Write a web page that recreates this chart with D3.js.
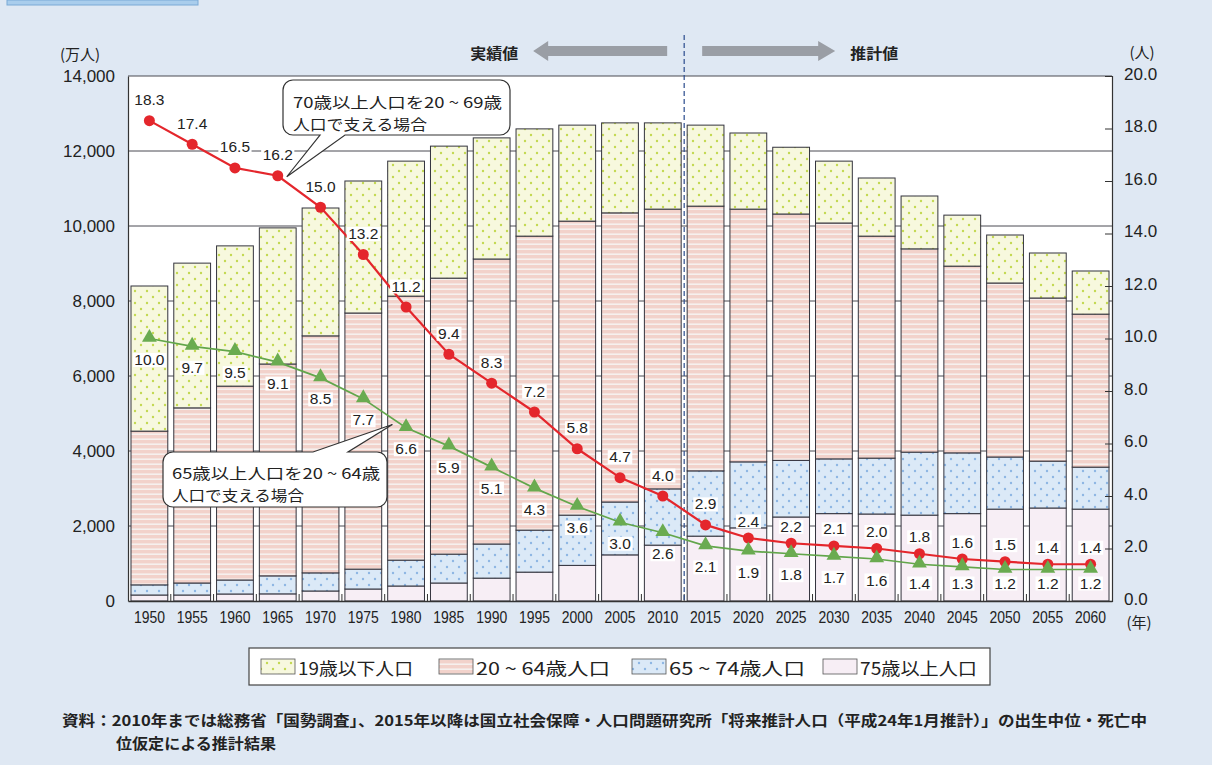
<!DOCTYPE html>
<html>
<head>
<meta charset="utf-8">
<script src="https://cdn.jsdelivr.net/npm/d3@7"></script>
<style>
  html, body { margin: 0; padding: 0; background: #dfe8f3; }
  svg { display: block; }
  text { font-family: "Liberation Sans", Arial, "Noto Sans CJK JP", sans-serif; fill: #222; }
  .jp { font-family: "Noto Sans CJK JP", "Noto Sans", sans-serif; }
</style>
</head>
<body>
<svg id="chart" width="1212" height="765"></svg>
<script>
// ---- data (population in 10,000 persons; ratios in persons) ----
const years = ["1950","1955","1960","1965","1970","1975","1980","1985","1990","1995","2000","2005",
               "2010","2015","2020","2025","2030","2035","2040","2045","2050","2055","2060"];
const under19   = [3870,3860,3740,3630,3410,3520,3600,3520,3230,2860,2560,2400,2300,2160,2030,1780,1650,1550,1410,1360,1280,1200,1150];
const age20to64 = [4100,4670,5170,5650,6320,6830,7040,7360,7600,7840,7840,7710,7460,7060,6740,6570,6290,5920,5420,4980,4640,4350,4080];
const age65to74 = [270,320,373,480,483,530,690,770,910,1120,1340,1410,1500,1740,1760,1510,1460,1490,1680,1620,1390,1250,1120];
const age75plus = [160,160,187,190,267,320,400,480,610,770,950,1230,1490,1730,1950,2240,2330,2320,2290,2330,2450,2480,2450];
// 70+ supported by 20-69 (red), 65+ supported by 20-64 (green)
const ratio70 = [18.3,17.4,16.5,16.2,15.0,13.2,11.2,9.4,8.3,7.2,5.8,4.7,4.0,2.9,2.4,2.2,2.1,2.0,1.8,1.6,1.5,1.4,1.4];
const ratio65 = [10.0,9.7,9.5,9.1,8.5,7.7,6.6,5.9,5.1,4.3,3.6,3.0,2.6,2.1,1.9,1.8,1.7,1.6,1.4,1.3,1.2,1.2,1.2];
const leftTicks  = [0,2000,4000,6000,8000,10000,12000,14000];
const rightTicks = [0,2,4,6,8,10,12,14,16,18,20];
const seriesKeys   = ["age75plus","age65to74","age20to64","under19"];
const legendKeys   = ["under19","age20to64","age65to74","age75plus"];
const legendLabels = ["19歳以下人口","20 ~ 64歳人口","65 ~ 74歳人口","75歳以上人口"];
const actualLabel = "実績値";
const projLabel = "推計値";
const calloutRed   = ["70歳以上人口を20 ~ 69歳","人口で支える場合"];
const calloutGreen = ["65歳以上人口を20 ~ 64歳","人口で支える場合"];
const sourceLines = ["資料：2010年までは総務省「国勢調査」、2015年以降は国立社会保障・人口問題研究所「将来推計人口（平成24年1月推計）」の出生中位・死亡中",
                     "位仮定による推計結果"];

// ---- layout ----
const L = 128, R = 1112, T = 76, B = 601;
const svg = d3.select("#chart");

const rows = years.map((yr, i) => ({
  year: yr, under19: under19[i], age20to64: age20to64[i], age65to74: age65to74[i], age75plus: age75plus[i]
}));

const x  = d3.scaleBand().domain(years).range([L, R]).paddingInner(0.14).paddingOuter(0.07);
const y  = d3.scaleLinear().domain([0, 14000]).range([B, T]);
const y2 = d3.scaleLinear().domain([0, 20]).range([B, T]);
const cx = d => x(d) + x.bandwidth() / 2;

// ---- fill patterns ----
const defs = svg.append("defs");
function dotPattern(id, bg, dot) {
  const p = defs.append("pattern").attr("id", id).attr("patternUnits", "userSpaceOnUse")
    .attr("width", 12).attr("height", 12);
  p.append("rect").attr("width", 12).attr("height", 12).attr("fill", bg);
  p.append("circle").attr("cx", 3).attr("cy", 3).attr("r", 1.2).attr("fill", dot);
  p.append("circle").attr("cx", 9).attr("cy", 9).attr("r", 1.2).attr("fill", dot);
}
dotPattern("pUnder19", "#f7f8de", "#c3d950");
dotPattern("p65", "#dbe9f7", "#8db6e4");
const ps = defs.append("pattern").attr("id", "p2064").attr("patternUnits", "userSpaceOnUse")
  .attr("width", 10).attr("height", 5);
ps.append("rect").attr("width", 10).attr("height", 5).attr("fill", "#f6f0ee");
ps.append("rect").attr("width", 10).attr("height", 3.4).attr("fill", "#f2d2cb");
const fills = {under19: "url(#pUnder19)", age20to64: "url(#p2064)", age65to74: "url(#p65)", age75plus: "#f7eef5"};

// header tab
svg.append("rect").attr("x", 7).attr("y", 0).attr("width", 191).attr("height", 5)
  .attr("fill", "#a9cdec").attr("stroke", "#7aa9d6");

// plot background
svg.append("rect").attr("x", L).attr("y", T).attr("width", R - L).attr("height", B - T).attr("fill", "#fff");

// gridlines
svg.append("g").selectAll("line").data(leftTicks.filter(d => d > 0 && d < 14000)).join("line")
  .attr("x1", L).attr("x2", R).attr("y1", d => y(d)).attr("y2", d => y(d))
  .attr("stroke", "#4a4a52").attr("stroke-width", 1);

// stacked bars
const stacked = d3.stack().keys(seriesKeys)(rows);
svg.append("g").selectAll("g").data(stacked).join("g")
  .attr("fill", s => fills[s.key])
  .selectAll("rect").data(s => s).join("rect")
  .attr("x", d => x(d.data.year))
  .attr("width", x.bandwidth())
  .attr("y", d => y(d[1]))
  .attr("height", d => y(d[0]) - y(d[1]))
  .attr("stroke", "#33333d").attr("stroke-width", 1);

// band-boundary ticks on the baseline
svg.append("g").selectAll("line").data(years.slice(1)).join("line")
  .attr("x1", d => x(d) - x.step() * x.paddingInner() / 2)
  .attr("x2", d => x(d) - x.step() * x.paddingInner() / 2)
  .attr("y1", B).attr("y2", B - 7).attr("stroke", "#333");

// frame
svg.append("line").attr("x1", L).attr("x2", R).attr("y1", T).attr("y2", T).attr("stroke", "#4a4a52").attr("stroke-width", 1.2);

// left axis
const gl = svg.append("g").attr("transform", `translate(${L},0)`)
  .call(d3.axisLeft(y).tickValues(leftTicks).tickSize(0).tickPadding(13).tickFormat(d3.format(",")));
gl.select(".domain").attr("stroke", "#333").attr("stroke-width", 1.2);
gl.selectAll("text").attr("font-size", 17).attr("fill", "#222")
  .style("font-family", '"Liberation Sans", Arial, sans-serif');

// right axis
const gr = svg.append("g").attr("transform", `translate(${R},0)`)
  .call(d3.axisRight(y2).tickValues(rightTicks).tickSize(-7).tickPadding(12).tickFormat(d3.format(".1f")));
gr.select(".domain").attr("stroke", "#333").attr("stroke-width", 1.2);
gr.selectAll("line").attr("stroke", "#333");
gr.selectAll("text").attr("font-size", 17).attr("fill", "#222").attr("dy", "0.2em")
  .style("font-family", '"Liberation Sans", Arial, sans-serif');

// bottom axis
const gb = svg.append("g").attr("transform", `translate(0,${B})`)
  .call(d3.axisBottom(x).tickSize(0).tickPadding(10));
gb.select(".domain").attr("stroke", "#333").attr("stroke-width", 1.4);
gb.selectAll("text").attr("font-size", 16.5).attr("fill", "#222")
  .attr("textLength", 31).attr("lengthAdjust", "spacingAndGlyphs")
  .style("font-family", '"Liberation Sans", Arial, sans-serif');

// unit labels
svg.append("text").attr("class", "jp").attr("x", 80).attr("y", 53).attr("text-anchor", "middle")
  .attr("dominant-baseline", "central").attr("font-size", 15).text("(万人)");
svg.append("text").attr("class", "jp").attr("x", 1142).attr("y", 51).attr("text-anchor", "middle")
  .attr("dominant-baseline", "central").attr("font-size", 15).text("(人)");
svg.append("text").attr("class", "jp").attr("x", 1139).attr("y", 621).attr("text-anchor", "middle")
  .attr("dominant-baseline", "central").attr("font-size", 15).text("(年)");

// actual / projected divider
const divX = x("2015") - x.step() * x.paddingInner() / 2;
svg.append("line").attr("x1", divX).attr("x2", divX).attr("y1", 35).attr("y2", B)
  .attr("stroke", "#2a4b8d").attr("stroke-width", 1.2).attr("stroke-dasharray", "5,3");

const arrowColor = "#9a9ea5";
const ay = 51;
svg.append("path").attr("fill", arrowColor)
  .attr("d", `M${divX - 151},${ay} L${divX - 136},${ay - 10} L${divX - 136},${ay - 5} L${divX - 17},${ay - 5} L${divX - 17},${ay + 5} L${divX - 136},${ay + 5} L${divX - 136},${ay + 10} Z`);
svg.append("path").attr("fill", arrowColor)
  .attr("d", `M${divX + 151},${ay} L${divX + 134},${ay - 10} L${divX + 134},${ay - 5} L${divX + 18},${ay - 5} L${divX + 18},${ay + 5} L${divX + 134},${ay + 5} L${divX + 134},${ay + 10} Z`);
svg.append("text").attr("class", "jp").attr("x", divX - 166).attr("y", ay + 1).attr("text-anchor", "end")
  .attr("dominant-baseline", "central").attr("font-size", 15).attr("font-weight", 700)
  .attr("textLength", 48).attr("lengthAdjust", "spacingAndGlyphs").text(actualLabel);
svg.append("text").attr("class", "jp").attr("x", divX + 166).attr("y", ay + 1)
  .attr("dominant-baseline", "central").attr("font-size", 15).attr("font-weight", 700)
  .attr("textLength", 48).attr("lengthAdjust", "spacingAndGlyphs").text(projLabel);

// ratio lines
const red = "#e4262c", green = "#62a64b";
const lineRed = d3.line().x((d, i) => cx(years[i])).y(d => y2(d));
svg.append("path").datum(ratio70).attr("d", lineRed).attr("fill", "none").attr("stroke", red).attr("stroke-width", 2.2);
svg.append("path").datum(ratio65).attr("d", lineRed).attr("fill", "none").attr("stroke", green).attr("stroke-width", 1.7);

svg.append("g").selectAll("circle").data(ratio70).join("circle")
  .attr("cx", (d, i) => cx(years[i])).attr("cy", d => y2(d)).attr("r", 5.5).attr("fill", red);
const tri = d3.symbol().type(d3.symbolTriangle).size(95);
svg.append("g").selectAll("path").data(ratio65).join("path")
  .attr("d", tri).attr("fill", "#6aab50")
  .attr("transform", (d, i) => `translate(${cx(years[i])},${y2(d) - 1})`);

// value labels with white backing boxes
function valueLabels(values, posFn) {
  const g = svg.append("g");
  values.forEach((v, i) => {
    const t = g.append("text").attr("x", cx(years[i])).attr("y", posFn(v, i))
      .attr("text-anchor", "middle").attr("dominant-baseline", "central")
      .attr("font-size", 15.5).text(d3.format(".1f")(v));
    const bb = t.node().getBBox();
    g.insert("rect", () => t.node())
      .attr("x", bb.x - 1.5).attr("y", bb.y + 2).attr("width", bb.width + 3).attr("height", bb.height - 3)
      .attr("fill", "#fff");
  });
}
valueLabels(ratio70, (v, i) => y2(v) - (i <= 13 ? 21 : 17));
valueLabels(ratio65, (v, i) => Math.min(y2(v) + 21, 583));

// callouts
function callout(x0, y0, x1, y1, r, edge, p1, p2, tip) {
  const p = d3.path();
  p.moveTo(x0 + r, y0);
  if (edge === "top") { p.lineTo(p1, y0); p.lineTo(tip[0], tip[1]); p.lineTo(p2, y0); }
  p.lineTo(x1 - r, y0);
  p.arcTo(x1, y0, x1, y0 + r, r);
  p.lineTo(x1, y1 - r);
  p.arcTo(x1, y1, x1 - r, y1, r);
  if (edge === "bottom") { p.lineTo(p2, y1); p.lineTo(tip[0], tip[1]); p.lineTo(p1, y1); }
  p.lineTo(x0 + r, y1);
  p.arcTo(x0, y1, x0, y1 - r, r);
  p.lineTo(x0, y0 + r);
  p.arcTo(x0, y0, x0 + r, y0, r);
  p.closePath();
  return p.toString();
}
function calloutText(lines, x0, yFirst, widths) {
  lines.forEach((s, i) => {
    svg.append("text").attr("class", "jp").attr("x", x0).attr("y", yFirst + i * 22)
      .attr("dominant-baseline", "central").attr("font-size", 15)
      .attr("textLength", widths[i]).attr("lengthAdjust", "spacingAndGlyphs").text(s);
  });
}
const tipRed = [cx("1965") + 9, y2(ratio70[3]) + 1];
svg.append("path").attr("d", callout(283, 80, 510, 135, 10, "bottom", 320, 345, tipRed))
  .attr("fill", "#fff").attr("stroke", "#333").attr("stroke-width", 1.2);
calloutText(calloutRed, 293, 101, [209, 134]);

const gx0 = cx("1975"), gx1 = cx("1980");
const tipGreen = [gx0 + 0.68 * (gx1 - gx0), y2(ratio65[5]) + 0.68 * (y2(ratio65[6]) - y2(ratio65[5])) + 6];
svg.append("path").attr("d", callout(163, 452, 387, 507, 10, "top", 313, 348, tipGreen))
  .attr("fill", "#fff").attr("stroke", "#333").attr("stroke-width", 1.2);
calloutText(calloutGreen, 172, 472, [208, 132]);

// legend
const lg = svg.append("g");
lg.append("rect").attr("x", 249).attr("y", 648).attr("width", 741).attr("height", 37)
  .attr("fill", "#fff").attr("stroke", "#444").attr("stroke-width", 1.2);
const swX = [261, 439, 632, 823];
const txW = [115, 134, 136, 117];
legendKeys.forEach((k, i) => {
  lg.append("rect").attr("x", swX[i]).attr("y", 659).attr("width", 34).attr("height", 15)
    .attr("fill", fills[k]).attr("stroke", "#555").attr("stroke-width", 0.8);
  lg.append("text").attr("class", "jp").attr("x", swX[i] + 37).attr("y", 667)
    .attr("dominant-baseline", "central").attr("font-size", 17.5)
    .attr("textLength", txW[i]).attr("lengthAdjust", "spacingAndGlyphs").text(legendLabels[i]);
});

// source note
svg.append("text").attr("class", "jp").attr("x", 62).attr("y", 719).attr("dominant-baseline", "central")
  .attr("font-size", 14.5).attr("font-weight", 700).attr("fill", "#333")
  .attr("textLength", 1085).attr("lengthAdjust", "spacingAndGlyphs").text(sourceLines[0]);
svg.append("text").attr("class", "jp").attr("x", 116).attr("y", 742).attr("dominant-baseline", "central")
  .attr("font-size", 14.5).attr("font-weight", 700).attr("fill", "#333")
  .attr("textLength", 160).attr("lengthAdjust", "spacingAndGlyphs").text(sourceLines[1]);
</script>
</body>
</html>
